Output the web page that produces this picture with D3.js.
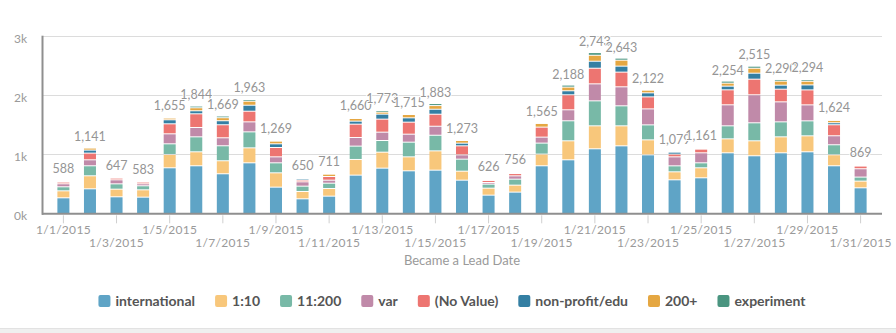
<!DOCTYPE html>
<html>
<head>
<meta charset="utf-8">
<script src="https://cdn.jsdelivr.net/npm/d3@7"></script>
<style>
  body { margin: 0; background: #fff; }
  text { font-family: Lato, "Open Sans", sans-serif; }
</style>
</head>
<body>
<div id="VisContainer"></div>
<script>
// dates on x axis
dates = ["1/1/2015","1/2/2015","1/3/2015","1/4/2015","1/5/2015","1/6/2015","1/7/2015","1/8/2015",
         "1/9/2015","1/10/2015","1/11/2015","1/12/2015","1/13/2015","1/14/2015","1/15/2015","1/16/2015",
         "1/17/2015","1/18/2015","1/19/2015","1/20/2015","1/21/2015","1/22/2015","1/23/2015","1/24/2015",
         "1/25/2015","1/26/2015","1/27/2015","1/28/2015","1/29/2015","1/30/2015","1/31/2015"];

// series, bottom to top
international = [270,422,287,281,777,811,676,861,450,253,298,653,771,726,737,568,315,366,811,912,1098,1148,996,574,608,1030,980,1030,1047,811,439];
oneTen        = [118,220,129,124,225,236,220,253,242,124,129,265,270,236,326,152,118,118,197,321,388,338,253,135,169,236,253,270,270,186,113];
elevenTwoH    = [68,169,90,68,180,253,253,270,169,90,90,225,197,248,264,203,68,101,186,338,422,338,253,101,84,220,304,253,253,169,68];
varVals       = [51,101,68,34,169,158,135,169,101,73,51,146,141,135,152,73,28,56,101,186,287,321,270,152,169,355,473,338,270,152,141];
noValue       = [28,113,28,28,169,231,220,180,158,28,62,225,220,203,203,152,34,39,169,253,264,248,203,45,62,253,264,214,253,186,45];
nonProfit     = [0,51,0,0,68,51,68,101,62,23,0,51,84,73,84,45,0,0,0,68,118,101,68,34,0,62,101,68,84,34,0];
twoHundred    = [0,34,0,0,28,51,51,68,45,0,39,45,34,56,62,45,0,0,62,62,101,101,45,0,0,51,84,68,62,39,0];
experiment    = [0,0,0,0,0,28,28,28,0,0,0,0,28,0,34,0,0,0,0,34,45,34,0,0,0,34,34,28,28,0,0];

// totals as printed above the bars
totals = [588,1141,647,583,1655,1844,1669,1963,1269,650,711,1660,1773,1715,1883,1273,626,756,1565,2188,2743,2643,2122,1079,1161,2254,2515,2290,2294,1624,869];

seriesNames = ["international","1:10","11:200","var","(No Value)","non-profit/edu","200+","experiment"];
seriesData = [international, oneTen, elevenTwoH, varVals, noValue, nonProfit, twoHundred, experiment];
colors = ["#5fa4c6","#f8c77b","#78b9a7","#c08aa9","#ed7571","#347fa3","#e5a742","#4a9580"];
yTicks = [0,1000,2000,3000];

W = 896; H = 333;
plot = {x0: 42, x1: 882, y0: 213.3, y1: 35.7};

rows = dates.map(function(d,i){
  var r = {date: d};
  seriesNames.forEach(function(s,j){ r[s] = seriesData[j][i]; });
  return r;
});

svg = d3.select("#VisContainer").append("svg")
        .attr("width", W).attr("height", H);

x = d3.scaleBand().domain(dates).range([plot.x0, plot.x1]).paddingInner(0.548).paddingOuter(0.579);
y = d3.scaleLinear().domain([0,3000]).range([plot.y0, plot.y1]);

// grid
svg.append("g").selectAll("line.grid")
   .data(yTicks.slice(1))
   .enter().append("line")
   .attr("class","grid")
   .attr("x1", plot.x0).attr("x2", plot.x1)
   .attr("y1", function(d){return Math.round(y(d)) + 0.5;}).attr("y2", function(d){return Math.round(y(d)) + 0.5;})
   .attr("stroke", "#dcdcdc").attr("stroke-width", 1);

// y labels
svg.append("g").selectAll("text")
   .data(yTicks)
   .enter().append("text")
   .attr("x", 27).attr("y", function(d){return y(d) + 7;})
   .attr("text-anchor","end")
   .attr("fill","#9a9a9a").style("font-size","12px")
   .text(function(d){return (d/1000) + "k";});

// bars
stack = d3.stack().keys(seriesNames)(rows);
svg.append("g").selectAll("g.layer")
   .data(stack)
   .enter().append("g")
   .attr("class","layer")
   .attr("fill", function(d,i){return colors[i];})
   .selectAll("rect")
   .data(function(d){return d;})
   .enter().append("rect")
   .attr("x", function(d){return x(d.data.date);})
   .attr("width", x.bandwidth())
   .attr("y", function(d){return y(d[1]) + 1;})
   .attr("height", function(d){return Math.max(0, y(d[0]) - y(d[1]) - 1);});

// total labels
svg.append("g").selectAll("text")
   .data(totals)
   .enter().append("text")
   .attr("x", function(d,i){return x(dates[i]) + x.bandwidth()/2;})
   .attr("y", function(d){return y(d) - 5;})
   .attr("text-anchor","middle")
   .attr("fill","#959595")
   .attr("stroke","#fff").attr("stroke-width",2).style("paint-order","stroke")
   .style("font-size","12.5px")
   .text(function(d){return d3.format(",")(d);});

// axes lines
svg.append("line").attr("x1", plot.x0).attr("x2", plot.x1).attr("y1", plot.y0+0.5).attr("y2", plot.y0+0.5)
   .attr("stroke","#8f8f8f").attr("stroke-width",2);
svg.append("line").attr("x1", plot.x0+0.5).attr("x2", plot.x0+0.5).attr("y1", plot.y1).attr("y2", plot.y0+1.5)
   .attr("stroke","#8f8f8f").attr("stroke-width",2);

// x ticks: every second date, labels on two rows
xt = dates.filter(function(d,i){return i % 2 == 0;});
gx = svg.append("g").selectAll("g.xt")
   .data(xt)
   .enter().append("g")
   .attr("class","xt")
   .attr("transform", function(d){return "translate(" + (x(d) + x.bandwidth()/2) + ",0)";});
gx.append("line").attr("y1", plot.y0+2).attr("y2", plot.y0+10).attr("stroke","#cfcfcf");
gx.append("text")
  .attr("y", function(d,i){return i % 2 == 0 ? 234 : 247;})
  .attr("text-anchor","middle")
  .attr("fill","#9a9a9a").style("font-size","12px")
  .style("letter-spacing","0.3px")
  .text(function(d){return d;});

svg.append("text")
   .attr("x", (plot.x0+plot.x1)/2).attr("y", 265)
   .attr("text-anchor","middle")
   .attr("fill","#9a9a9a").style("font-size","13px")
   .text("Became a Lead Date");

// legend
legend = svg.append("g");
items = legend.selectAll("g.item")
   .data(seriesNames)
   .enter().append("g").attr("class","item");
items.append("rect").attr("width",12).attr("height",12).attr("rx",2).attr("y",-6)
   .attr("fill", function(d,i){return colors[i];});
items.append("text").attr("x",17).attr("y",5)
   .attr("fill","#555").style("font-size","14px").style("font-weight","bold")
   .text(function(d){return d;});
var pos = 0;
items.each(function(d){
  d3.select(this).attr("transform","translate(" + pos + ",0)");
  pos += 17 + this.querySelector("text").getComputedTextLength() + 20;
});
legend.attr("transform","translate(" + (452 - (pos-20)/2) + ",301)");

// bottom band
svg.append("rect").attr("x",0).attr("y",328).attr("width",W).attr("height",5).attr("fill","#efefef");
svg.append("line").attr("x1",0).attr("x2",W).attr("y1",328.5).attr("y2",328.5).attr("stroke","#e2e2e2");
</script>
</body>
</html>
